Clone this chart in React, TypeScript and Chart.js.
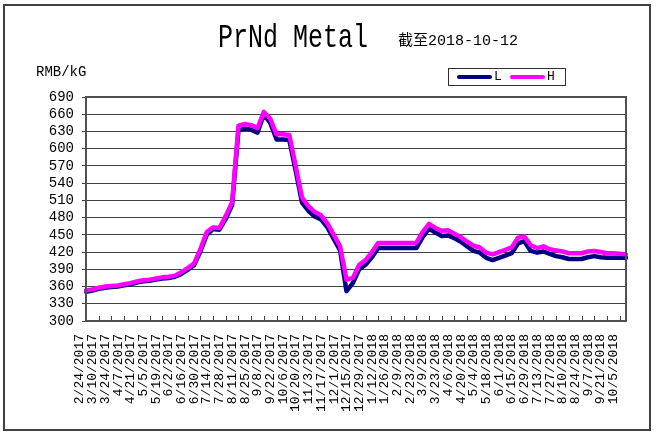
import React, { useEffect, useRef } from "react";
import { Chart, registerables } from "chart.js";

Chart.register(...registerables);

const weekDates = [
  "2/24/2017", "3/3/2017", "3/10/2017", "3/17/2017", "3/24/2017", "3/31/2017", "4/7/2017", "4/14/2017", "4/21/2017", "4/28/2017",
  "5/5/2017", "5/12/2017", "5/19/2017", "5/26/2017", "6/2/2017", "6/9/2017", "6/16/2017", "6/23/2017", "6/30/2017", "7/7/2017",
  "7/14/2017", "7/21/2017", "7/28/2017", "8/4/2017", "8/11/2017", "8/18/2017", "8/25/2017", "9/1/2017", "9/8/2017", "9/15/2017",
  "9/22/2017", "9/29/2017", "10/6/2017", "10/13/2017", "10/20/2017", "10/27/2017", "11/3/2017", "11/10/2017", "11/17/2017", "11/24/2017",
  "12/1/2017", "12/8/2017", "12/15/2017", "12/22/2017", "12/29/2017", "1/5/2018", "1/12/2018", "1/19/2018", "1/26/2018", "2/2/2018",
  "2/9/2018", "2/16/2018", "2/23/2018", "3/2/2018", "3/9/2018", "3/16/2018", "3/23/2018", "3/30/2018", "4/6/2018", "4/13/2018",
  "4/20/2018", "4/27/2018", "5/4/2018", "5/11/2018", "5/18/2018", "5/25/2018", "6/1/2018", "6/8/2018", "6/15/2018", "6/22/2018",
  "6/29/2018", "7/6/2018", "7/13/2018", "7/20/2018", "7/27/2018", "8/3/2018", "8/10/2018", "8/17/2018", "8/24/2018", "8/31/2018",
  "9/7/2018", "9/14/2018", "9/21/2018", "9/28/2018", "10/5/2018", "10/12/2018",
];

const lowPrices = [
  351, 353, 356, 358, 359, 360, 362, 364, 367, 369,
  370, 372, 374, 375, 377, 382, 389, 397, 421, 450,
  460, 459, 478, 502, 632, 635, 633, 628, 660, 645,
  616, 616, 615, 562, 506, 492, 482, 477, 463, 443,
  423, 352, 366, 390, 398, 411, 427, 427, 427, 427,
  427, 427, 427, 446, 461, 454, 448, 449, 444, 438,
  430, 422, 419, 410, 406, 410, 414, 418, 435, 439,
  422, 419, 421, 417, 413, 411, 408, 408, 408, 411,
  413, 411, 410, 410, 410, 410,
];

const highPrices = [
  353, 355, 358, 360, 361, 362, 364, 366, 369, 371,
  372, 374, 376, 377, 379, 385, 392, 400, 425, 455,
  463, 462, 483, 507, 640, 643, 641, 636, 664, 652,
  625, 625, 624, 570, 515, 500, 490, 484, 470, 450,
  430, 372, 375, 398, 406, 420, 436, 436, 436, 436,
  436, 436, 436, 455, 469, 462, 457, 458, 452, 446,
  438, 431, 428, 419, 416, 420, 424, 428, 445, 447,
  432, 427, 430, 425, 423, 421, 418, 418, 418, 421,
  422, 420, 418, 418, 417, 416,
];

const seriesNames = ["L", "H"];
const seriesColors = ["#000080", "#FF00FF"];
const yMin = 300;
const yMax = 690;
const yStep = 30;

const MONO = '"Liberation Mono", monospace';

const frame = {
  id: "frame",
  beforeDatasetsDraw(chart: any) {
    const { ctx, chartArea } = chart;
    const xs = chart.scales.x;
    ctx.save();
    ctx.strokeStyle = "#404040";
    ctx.lineWidth = 1;
    for (let i = 0; i < weekDates.length; i += 2) {
      const px = Math.round(xs.getPixelForTick(i)) + 0.5;
      ctx.beginPath();
      ctx.moveTo(px, chartArea.bottom);
      ctx.lineTo(px, chartArea.bottom - 5);
      ctx.stroke();
    }
    ctx.restore();
  },
  afterDraw(chart: any) {
    const { ctx, chartArea } = chart;
    ctx.save();
    ctx.strokeStyle = "#505050";
    ctx.lineWidth = 2;
    ctx.strokeRect(chartArea.left, chartArea.top, chartArea.right - chartArea.left, chartArea.bottom - chartArea.top);
    ctx.restore();
  },
};

export default function App() {
  const ref = useRef<HTMLCanvasElement | null>(null);

  useEffect(() => {
    if (!ref.current) return;
    const chart = new Chart(ref.current, {
      type: "line",
      data: {
        labels: weekDates,
        datasets: [
          {
            label: seriesNames[1],
            data: highPrices,
            borderColor: seriesColors[1],
            backgroundColor: seriesColors[1],
            borderWidth: 4.5,
            pointRadius: 0,
            tension: 0,
            borderJoinStyle: "round",
            borderCapStyle: "round",
          },
          {
            label: seriesNames[0],
            data: lowPrices,
            borderColor: seriesColors[0],
            backgroundColor: seriesColors[0],
            borderWidth: 4.5,
            pointRadius: 0,
            tension: 0,
            borderJoinStyle: "round",
            borderCapStyle: "round",
          },
        ],
      },
      options: {
        responsive: false,
        animation: false,
        layout: { padding: { left: 0, right: 37, top: 97, bottom: 0 } },
        plugins: { legend: { display: false }, tooltip: { enabled: false }, title: { display: false } },
        scales: {
          x: {
            type: "category",
            offset: false,
            grid: { display: false },
            border: { display: false },
            afterFit: (s: any) => {
              s.height = 121;
            },
            ticks: {
              autoSkip: false,
              minRotation: 90,
              maxRotation: 90,
              padding: 5,
              labelOffset: -6,
              color: "#000",
              font: { family: MONO, size: 13 },
              callback: (_v: any, i: number) => (i % 2 === 0 ? weekDates[i] : ""),
            },
          },
          y: {
            min: yMin,
            max: yMax,
            grid: { color: "#404040", lineWidth: 1, tickLength: 4, drawTicks: true },
            border: { display: false },
            afterFit: (s: any) => {
              s.width = 86;
            },
            ticks: {
              stepSize: yStep,
              autoSkip: false,
              maxTicksLimit: 20,
              padding: 8,
              color: "#000",
              font: { family: MONO, size: 14 },
            },
          },
        },
      },
      plugins: [frame],
    });
    return () => chart.destroy();
  }, []);

  return (
    <div style={{ position: "absolute", left: 0, top: 0, width: 663, height: 442, background: "#fff" }}>
      <canvas ref={ref} width={663} height={442} style={{ position: "absolute", left: 0, top: 0 }} />
      <div
        style={{
          position: "absolute",
          left: 3,
          top: 4,
          width: 644,
          height: 423,
          border: "2px solid #404040",
          pointerEvents: "none",
        }}
      />
      <div
        style={{
          position: "absolute",
          left: 218,
          top: 24,
          fontFamily: MONO,
          fontSize: 25,
          lineHeight: "30px",
          color: "#000",
          whiteSpace: "nowrap",
          transform: "scaleY(1.3)",
          transformOrigin: "left center",
        }}
      >
        PrNd Metal
      </div>
      <div
        style={{
          position: "absolute",
          left: 398,
          top: 32,
          fontFamily: '"Liberation Mono", "Noto Sans CJK SC", monospace',
          fontSize: 15,
          lineHeight: "20px",
          color: "#000",
          whiteSpace: "nowrap",
        }}
      >
        截至2018-10-12
      </div>
      <div
        style={{
          position: "absolute",
          left: 36,
          top: 63,
          fontFamily: MONO,
          fontSize: 14,
          lineHeight: "18px",
          color: "#000",
          whiteSpace: "nowrap",
        }}
      >
        RMB/kG
      </div>
      <div
        style={{
          position: "absolute",
          left: 448,
          top: 68,
          width: 116,
          height: 16,
          border: "1px solid #303030",
          background: "#fff",
        }}
      >
        <div style={{ position: "absolute", left: 8, top: 6, width: 35, height: 4, borderRadius: 2, background: seriesColors[0] }} />
        <div style={{ position: "absolute", left: 45, top: 0, fontFamily: MONO, fontSize: 13, lineHeight: "16px" }}>{seriesNames[0]}</div>
        <div style={{ position: "absolute", left: 61, top: 6, width: 35, height: 4, borderRadius: 2, background: seriesColors[1] }} />
        <div style={{ position: "absolute", left: 98, top: 0, fontFamily: MONO, fontSize: 13, lineHeight: "16px" }}>{seriesNames[1]}</div>
      </div>
    </div>
  );
}
